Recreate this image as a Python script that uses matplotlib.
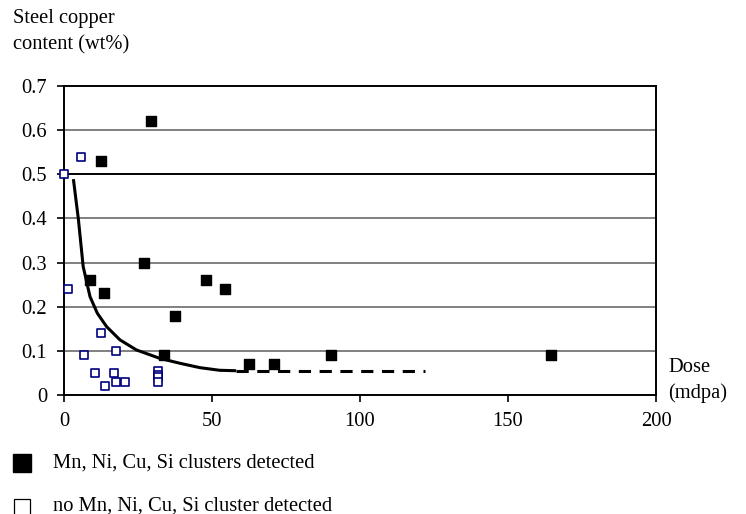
import matplotlib
matplotlib.use("Agg")
import matplotlib.pyplot as plt
from matplotlib.lines import Line2D

plt.rcParams['font.family'] = ['Liberation Serif', 'DejaVu Serif']

# Clusters detected (filled squares)
det_dose = [12.5, 29.3, 8.7, 13.5, 27.1, 37.4, 33.7, 47.9, 54.5, 62.5, 71.0, 90.3, 164.5]
det_cu   = [0.53, 0.62, 0.26, 0.23, 0.30, 0.18, 0.09, 0.26, 0.24, 0.07, 0.07, 0.09, 0.09]

# No clusters detected (open squares)
nod_dose = [0.0, 5.9, 1.3, 6.8, 12.5, 10.6, 17.7, 16.8, 14.0, 17.7, 20.5, 31.8, 31.8, 31.8, 31.8]
nod_cu   = [0.50, 0.54, 0.24, 0.09, 0.14, 0.05, 0.10, 0.05, 0.02, 0.03, 0.03, 0.055, 0.045, 0.04, 0.03]

# Boundary curve (solid) and its dashed extension
curve_dose = [3.2, 4.9, 6.5, 8.8, 11.3, 14.4, 18.9, 24.5, 32.4, 39.1, 45.9, 52.6, 58.2]
curve_cu   = [0.489, 0.397, 0.291, 0.223, 0.185, 0.155, 0.125, 0.102, 0.083, 0.072, 0.062, 0.056, 0.055]
dash_dose = [58.2, 122.0]
dash_cu   = [0.055, 0.055]

x_ticks = [0, 50, 100, 150, 200]
y_ticks = [0, 0.1, 0.2, 0.3, 0.4, 0.5, 0.6, 0.7]
y_labels = ['0', '0.1', '0.2', '0.3', '0.4', '0.5', '0.6', '0.7']

fig = plt.figure(figsize=(7.46, 5.14), dpi=100)
ax = fig.add_axes([0.0857, 0.2315, 0.7937, 0.6012])
ax.set_xlim(0, 200)
ax.set_ylim(0, 0.7)

for y in y_ticks[1:-1]:
    ax.axhline(y, color='black' if abs(y - 0.5) < 1e-9 else '#808080', lw=1.4, zorder=1)

ax.plot(curve_dose, curve_cu, color='black', lw=2.2, zorder=2, solid_capstyle='butt')
ax.plot(dash_dose, dash_cu, color='black', lw=2.2, ls=(0, (4, 2.8)), zorder=2)

ax.scatter(nod_dose, nod_cu, marker='s', s=36, facecolor='white', edgecolor='#000080',
           linewidths=1.2, zorder=3, clip_on=False)
ax.scatter(det_dose, det_cu, marker='s', s=52, color='black', zorder=4, clip_on=False)

ax.set_xticks(x_ticks)
ax.set_xticklabels([str(v) for v in x_ticks])
ax.set_yticks(y_ticks)
ax.set_yticklabels(y_labels)
ax.tick_params(direction='out', length=5, width=1.2, labelsize=14.8, pad=7, color='black')
for s in ax.spines.values():
    s.set_linewidth(1.4)
    s.set_color('black')

fig.text(13/746, 1 - 18/514, 'Steel copper', fontsize=14.8, ha='left', va='center')
fig.text(13/746, 1 - 45/514, 'content (wt%)', fontsize=14.8, ha='left', va='center')
fig.text(668/746, 1 - 367/514, 'Dose', fontsize=14.8, ha='left', va='center')
fig.text(668/746, 1 - 393/514, '(mdpa)', fontsize=14.8, ha='left', va='center')

fig.add_artist(Line2D([21.5/746], [1 - 463/514], marker='s', markersize=12.5, color='black',
                      transform=fig.transFigure, ls='none'))
fig.add_artist(Line2D([21.5/746], [1 - 507/514], marker='s', markersize=12, markerfacecolor='white',
                      markeredgecolor='black', markeredgewidth=0.9,
                      transform=fig.transFigure, ls='none'))
fig.text(53/746, 1 - 463/514, 'Mn, Ni, Cu, Si clusters detected', fontsize=14.8, ha='left', va='center')
fig.text(53/746, 1 - 506/514, 'no Mn, Ni, Cu, Si cluster detected', fontsize=14.8, ha='left', va='center')

fig.savefig('out.png', dpi=100)
